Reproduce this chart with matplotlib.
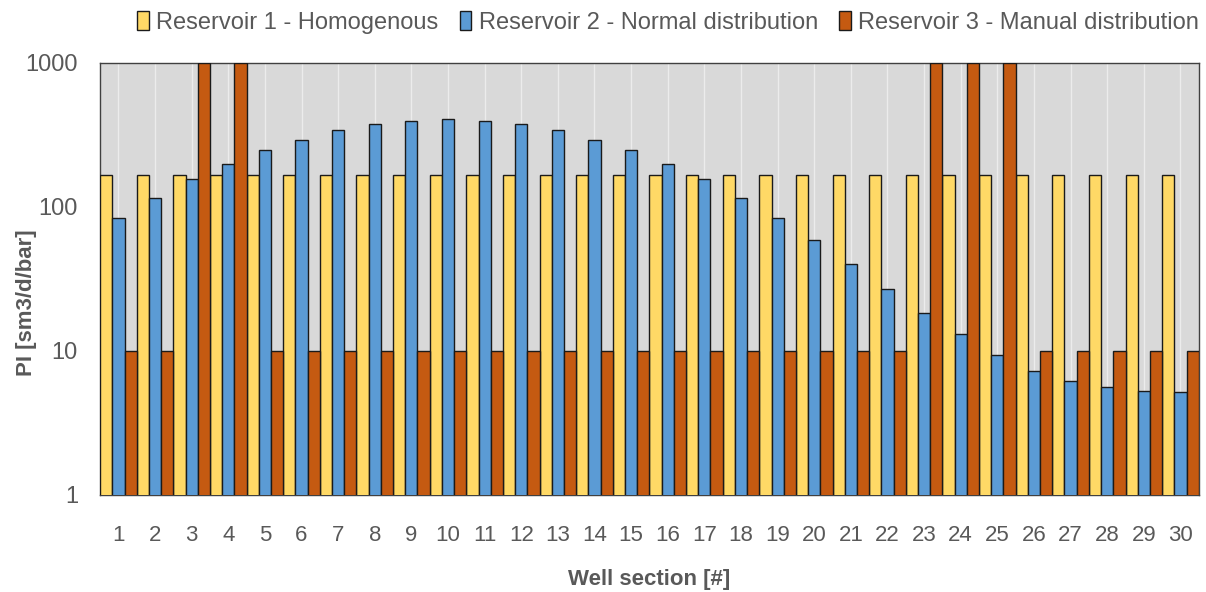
import matplotlib.pyplot as plt
import numpy as np
from matplotlib.ticker import FixedLocator, NullLocator, FuncFormatter

plt.rcParams['font.family'] = ['Liberation Sans', 'DejaVu Sans']

sections = list(range(1, 31))
res1_homogenous = [165] * 30
res2_normal = [84, 116, 155, 197, 248, 293, 339, 373, 397, 405,
               397, 373, 339, 293, 248, 197, 155, 116, 84, 59,
               40, 27, 18.3, 13, 9.3, 7.3, 6.2, 5.6, 5.3, 5.2]
res3_manual = [10, 10, 1000, 1000, 10, 10, 10, 10, 10, 10,
               10, 10, 10, 10, 10, 10, 10, 10, 10, 10,
               10, 10, 1000, 1000, 1000, 10, 10, 10, 10, 10]
labels = ['Reservoir 1 - Homogenous', 'Reservoir 2 - Normal distribution',
          'Reservoir 3 - Manual distribution']
colors = ['#ffd966', '#5b9bd5', '#c55a11']
text_grey = '#595959'

fig = plt.figure(figsize=(12.06, 5.92), dpi=100)
ax = fig.add_axes([0.083, 0.164, 0.911, 0.73])
ax.set_facecolor('#d9d9d9')

x = np.arange(len(sections))
w = 1 / 3
for i, (vals, lab, col) in enumerate(zip([res1_homogenous, res2_normal, res3_manual], labels, colors)):
    ax.bar(x + (i - 1) * w, vals, width=w, color=col, edgecolor='#1a1a1a',
           linewidth=1, label=lab, zorder=3)

ax.set_yscale('log')
ax.set_ylim(1, 1000)
ax.set_xlim(-0.5, len(sections) - 0.5)
ax.yaxis.set_major_locator(FixedLocator([1, 10, 100, 1000]))
ax.yaxis.set_minor_locator(NullLocator())
ax.yaxis.set_major_formatter(FuncFormatter(lambda v, p: f'{int(v)}'))
ax.set_xticks(x)
ax.set_xticklabels([str(s) for s in sections])
ax.tick_params(axis='both', length=0, colors=text_grey)
ax.tick_params(axis='x', pad=22, labelsize=16)
ax.tick_params(axis='y', pad=16, labelsize=17)
ax.grid(axis='x', color='#ececec', linewidth=1, zorder=0)
for s in ax.spines.values():
    s.set_color('#404040')
    s.set_linewidth(1)

ax.set_ylabel('PI [sm3/d/bar]', fontsize=16, fontweight='bold', color=text_grey)
ax.yaxis.set_label_coords(-0.057, 0.444)
ax.set_xlabel('Well section [#]', fontsize=16, fontweight='bold', color=text_grey, labelpad=16)

leg = ax.legend(loc='upper right', bbox_to_anchor=(1.0, 1.12), ncol=3, frameon=False,
                fontsize=17, handlelength=0.5, handleheight=0.9, handletextpad=0.3,
                columnspacing=0.9, borderaxespad=0, borderpad=0)
for t in leg.get_texts():
    t.set_color(text_grey)

fig.savefig('out.png', dpi=100)
